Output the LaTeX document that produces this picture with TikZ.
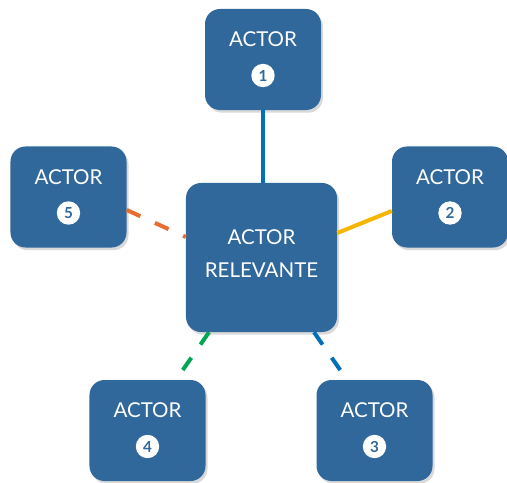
\documentclass[tikz,border=0pt]{standalone}
\usepackage{fontspec}
\setmainfont{Lato}
\usetikzlibrary{calc,shadows}
\definecolor{boxblue}{RGB}{49,104,155}
\definecolor{lineblue}{RGB}{0,112,184}
\definecolor{lineyellow}{RGB}{244,182,0}
\definecolor{lineorange}{RGB}{230,108,48}
\definecolor{linegreen}{RGB}{0,166,81}

\begin{document}
\begin{tikzpicture}[x=0.03cm,y=-0.03cm,
		actorbox/.style={fill=boxblue,rounded corners=0.45cm,minimum width=3.48cm,minimum height=3.03cm,
			drop shadow={opacity=0.3,shadow xshift=0.06cm,shadow yshift=-0.08cm}},
		actortext/.style={text=white,font=\fontsize{17.5}{28}\selectfont,align=center,inner sep=0pt},
		numdot/.style={circle,fill=white,minimum size=0.7cm,inner sep=0pt,text=boxblue,font=\bfseries\fontsize{13}{13}\selectfont},
		link/.style={line width=0.12cm},
		linkdash/.style={line width=0.12cm,dash pattern=on 0.45cm off 0.48cm}]
		\useasboundingbox (0,0) rectangle (507,483);
		% central actor
		\node[actorbox,minimum width=4.53cm,minimum height=4.47cm] (relev) at (261.5,257.5) {};
		\node[actortext] (reltxt) at ($(relev.center)+(0,-4)$) {ACTOR\\RELEVANTE};
		% the five actors round it
		\foreach \n/\x/\y in {1/263/59.5, 2/450/197, 3/374.5/430.5, 4/147.5/430.5, 5/68.5/197}{
			\node[actorbox] (actor\n) at (\x,\y) {};
			\node[actortext] (txt\n) at ($(actor\n.center)+(0,-20)$) {ACTOR};
			\node[numdot] (num\n) at ($(actor\n.center)+(0,16)$) {\n};
		}
		% links
		\draw[link,lineblue] (actor1.south) -- (actor1.south |- relev.north);
		\draw[link,lineyellow] ($(relev.east)+(0,-24.5)$) -- ($(actor2.west)+(0,14)$);
		\draw[linkdash,lineblue] ($(relev.south)+(52.5,0)$) -- ($(actor3.north)+(-27.5,0)$);
		\draw[linkdash,linegreen] ($(relev.south)+(-52.5,0)$) -- ($(actor4.north)+(28.5,0)$);
		\draw[linkdash,lineorange] ($(actor5.east)+(0,13)$) -- ($(relev.west)+(0,-20.5)$);
	\end{tikzpicture}
\end{document}
